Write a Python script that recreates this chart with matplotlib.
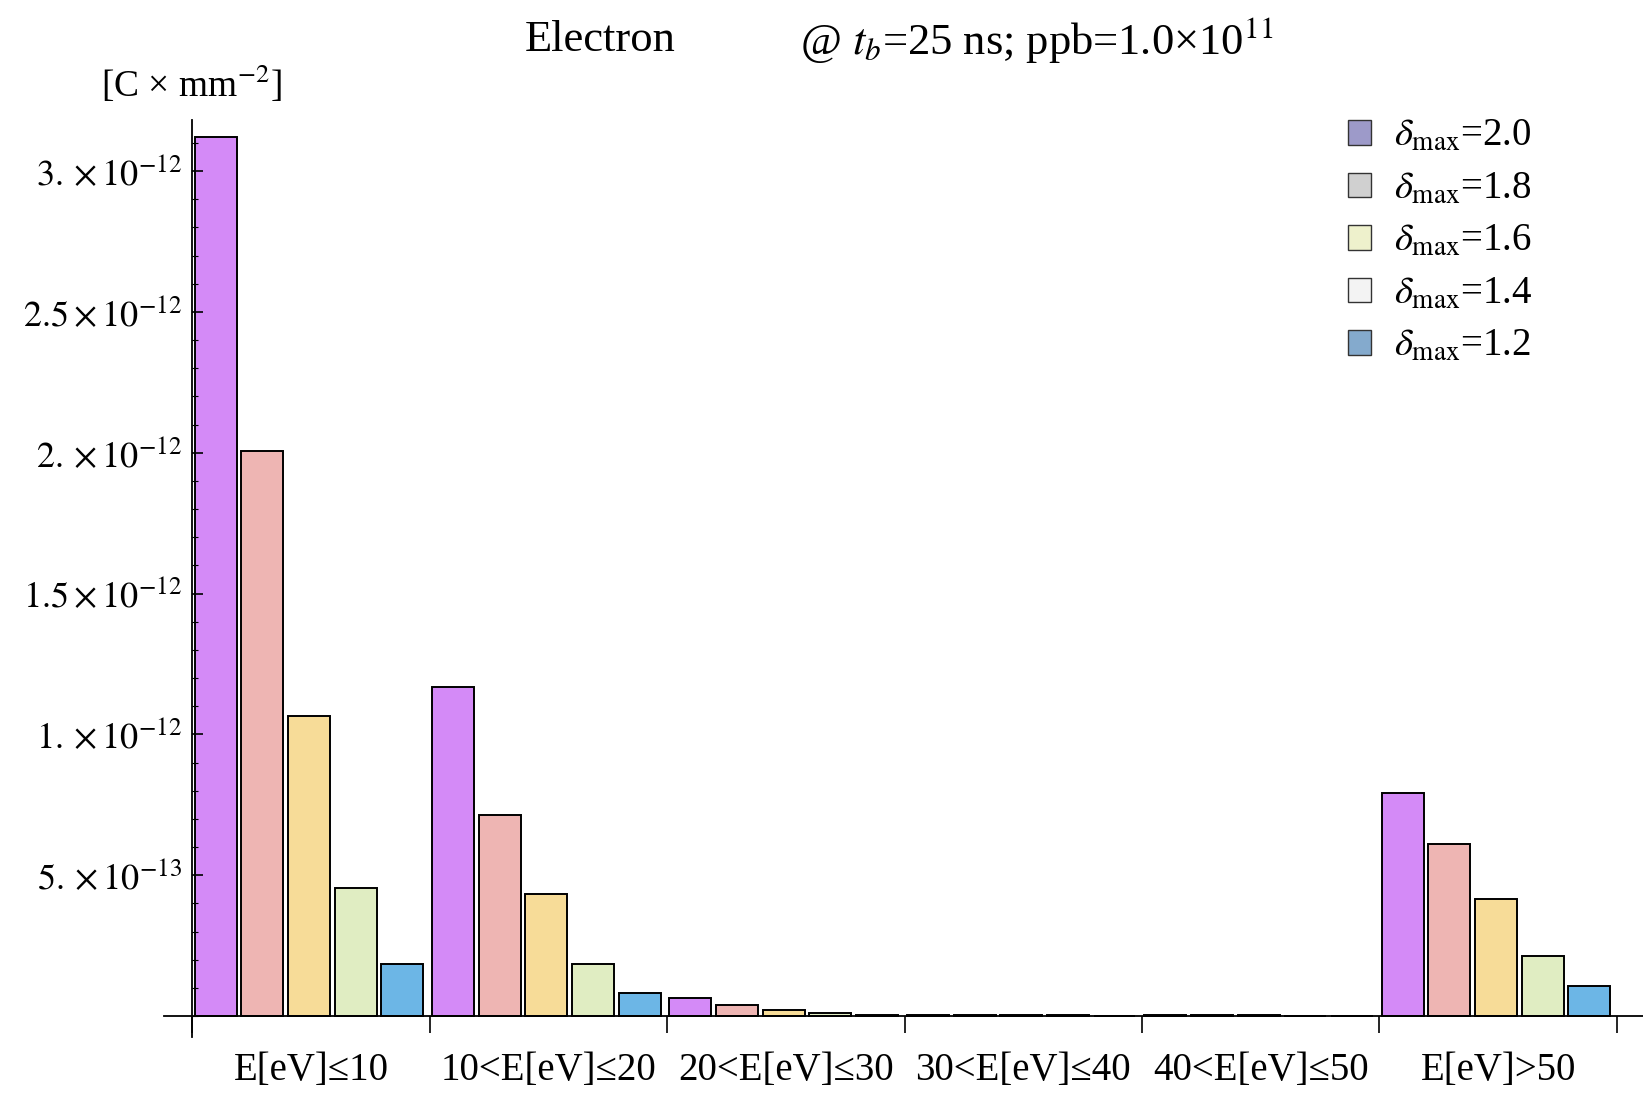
import matplotlib
matplotlib.use("Agg")
from matplotlib import pyplot as plt
from matplotlib.patches import Patch
from matplotlib.ticker import FixedLocator, MultipleLocator
import numpy as np

plt.rcParams['font.family'] = ['Liberation Serif', 'DejaVu Serif']
plt.rcParams['mathtext.fontset'] = 'stix'

# data (units of 1e-12 C/mm^2)
categories = ['E[eV]≤10', '10<E[eV]≤20', '20<E[eV]≤30', '30<E[eV]≤40', '40<E[eV]≤50', 'E[eV]>50']
series_names = ['2.0', '1.8', '1.6', '1.4', '1.2']
d20 = [3.123, 1.167, 0.063, 0.004, 0.003, 0.792]
d18 = [2.007, 0.714, 0.041, 0.003, 0.002, 0.610]
d16 = [1.067, 0.435, 0.022, 0.002, 0.002, 0.416]
d14 = [0.454, 0.186, 0.011, 0.002, 0.001, 0.212]
d12 = [0.186, 0.082, 0.004, 0.001, 0.001, 0.108]
series = [d20, d18, d16, d14, d12]

bar_colors = ['#d48af7', '#eeb5b3', '#f7dc98', '#e0edc2', '#6cb6e6']
legend_colors = ['#9d9ac9', '#d0d0d0', '#eef1cc', '#f3f3f3', '#84aacd']

ytick_vals = [0.5, 1.0, 1.5, 2.0, 2.5, 3.0]
ytick_labels = [r'$5.\times10^{-13}$', r'$1.\times10^{-12}$', r'$1.5\times10^{-12}$',
                r'$2.\times10^{-12}$', r'$2.5\times10^{-12}$', r'$3.\times10^{-12}$']

gw = 5.09
fig = plt.figure(figsize=(16.43, 10.93), dpi=100)
ax = fig.add_axes([0.0998, 0.0512, 0.9002, 0.8386])

for j, vals in enumerate(series):
    x = np.arange(len(categories)) * gw + 0.5 + j
    ax.bar(x, np.array(vals), width=0.9, color=bar_colors[j], edgecolor='black', linewidth=1.4)

ax.set_xlim(-0.607, 31.1)
ax.set_ylim(-0.0745, 3.18)

for s in ['top', 'right']:
    ax.spines[s].set_visible(False)
ax.spines['left'].set_position(('data', 0))
ax.spines['bottom'].set_position(('data', 0))
ax.spines['left'].set_linewidth(1.3)
ax.spines['bottom'].set_linewidth(1.3)

ax.yaxis.set_major_locator(FixedLocator(ytick_vals))
ax.set_yticklabels(ytick_labels, fontsize=26)
ax.yaxis.set_minor_locator(MultipleLocator(0.1))
ax.tick_params(axis='y', which='major', direction='in', length=8, width=1.2, pad=7)
ax.tick_params(axis='y', which='minor', direction='in', length=4, width=0.8)

bounds = np.arange(len(categories) + 1) * gw
ax.xaxis.set_major_locator(FixedLocator(bounds))
ax.xaxis.set_minor_locator(FixedLocator(np.arange(len(categories)) * gw + gw / 2))
ax.set_xticklabels([''] * len(bounds))
ax.set_xticklabels(categories, minor=True, fontsize=28)
ax.tick_params(axis='x', which='major', direction='out', length=12, width=1.2)
ax.tick_params(axis='x', which='minor', length=0, pad=26)

fig.text(0.3655, 0.963, 'Electron', fontsize=32, ha='center', va='center')
fig.text(0.631, 0.963, r'@ $t_b$=25 ns; ppb=1.0×10$^{11}$', fontsize=32, ha='center', va='center')
fig.text(0.1167, 0.923, r'[C × mm$^{-2}$]', fontsize=27, ha='center', va='center')

handles = [Patch(facecolor=c, edgecolor='#333333', linewidth=1.0) for c in legend_colors]
labels = [r'$\delta_{\mathrm{max}}$=' + n for n in series_names]
fig.legend(handles, labels, loc='upper left', bbox_to_anchor=(0.799, 0.924), frameon=False,
           fontsize=28, handlelength=0.6, handleheight=0.6, handletextpad=0.6, labelspacing=0.4)

fig.savefig('out.png', dpi=100)
